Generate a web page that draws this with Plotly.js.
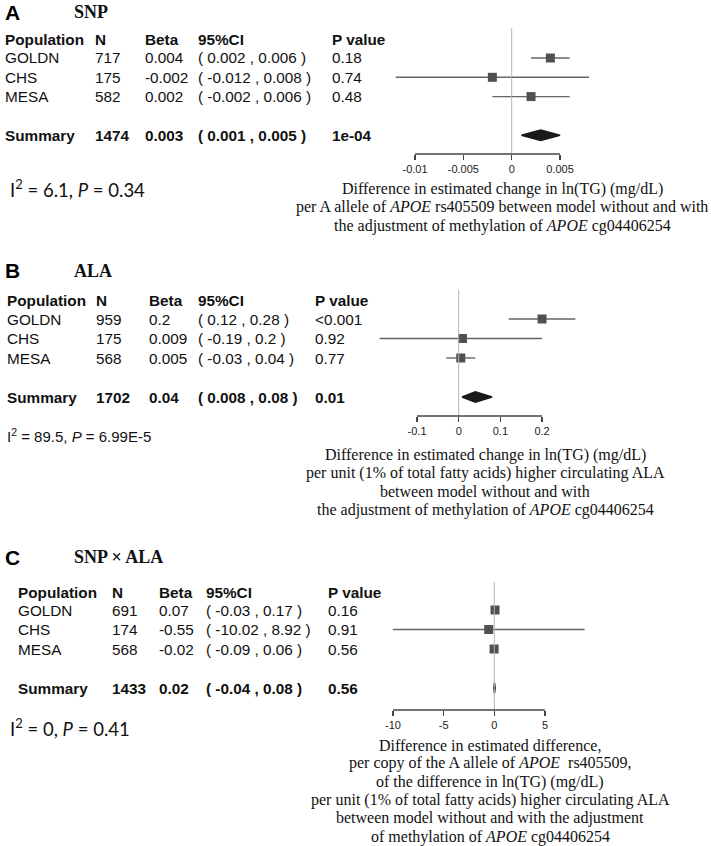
<!DOCTYPE html>
<html>
<head>
<meta charset="utf-8">
<script src="https://cdn.plot.ly/plotly-3.0.1.min.js"></script>
<style>body{margin:0;background:#fff}</style>
</head>
<body>
<div id="forest" style="width:711px;height:846px"></div>
<script>
// studies in every meta-analysis
var populations = ["GOLDN", "CHS", "MESA"];

// A: SNP
var snpN = [717, 175, 582];
var snpBeta = [0.004, -0.002, 0.002];
var snpLow = [0.002, -0.012, -0.002];
var snpHigh = [0.006, 0.008, 0.006];
var snpP = ["0.18", "0.74", "0.48"];
var snpSummary = [1474, 0.003, 0.001, 0.005];   // N, beta, low, high
var snpSummaryP = "1e-04";
var snpHet = ["6.1", "0.34"];                     // I2, P
var snpTicks = [-0.01, -0.005, 0, 0.005];

// B: ALA
var alaN = [959, 175, 568];
var alaBeta = [0.2, 0.009, 0.005];
var alaLow = [0.12, -0.19, -0.03];
var alaHigh = [0.28, 0.2, 0.04];
var alaP = ["<0.001", "0.92", "0.77"];
var alaSummary = [1702, 0.04, 0.008, 0.08];
var alaSummaryP = "0.01";
var alaHet = ["89.5", "6.99E-5"];
var alaTicks = [-0.1, 0, 0.1, 0.2];

// C: SNP x ALA
var intN = [691, 174, 568];
var intBeta = [0.07, -0.55, -0.02];
var intLow = [-0.03, -10.02, -0.09];
var intHigh = [0.17, 8.92, 0.06];
var intP = ["0.16", "0.91", "0.56"];
var intSummary = [1433, 0.02, -0.04, 0.08];
var intSummaryP = "0.56";
var intHet = ["0", "0.41"];
var intTicks = [-10, -5, 0, 5];

var W = 711, H = 846;
function py(p) { return 1 - p / H; }
function px(p) { return p / W; }

var panels = [
  {ax: "", letter: "A", name: "SNP", letterY: 12,
   n: snpN, beta: snpBeta, low: snpLow, high: snpHigh, p: snpP,
   sum: snpSummary, sumP: snpSummaryP, het: snpHet, ticks: snpTicks,
   top: 28, bottom: 154, row1: 58, step: 19.3, header: 40,
   zero: 511.7, scale: 9667, cols: [3, 93, 143, 196, 330],
   hetPos: [8, 188], hetFont: {family: "Lato, sans-serif", size: 18.5},
   lines: ["Difference in estimated change in ln(TG) (mg/dL)",
           "per A allele of <i>APOE</i> rs405509 between model without and with",
           "the adjustment of methylation of <i>APOE</i> cg04406254"],
   lineY: 189, lineX: 502},
  {ax: "2", letter: "B", name: "ALA", letterY: 271,
   n: alaN, beta: alaBeta, low: alaLow, high: alaHigh, p: alaP,
   sum: alaSummary, sumP: alaSummaryP, het: alaHet, ticks: alaTicks,
   top: 290, bottom: 416, row1: 319, step: 19.5, header: 300,
   zero: 458.7, scale: 416.7, cols: [5, 94, 147, 196, 313],
   hetPos: [5, 435], hetFont: {family: "Liberation Sans, Arial, sans-serif", size: 15},
   lines: ["Difference in estimated change in ln(TG) (mg/dL)",
           "per unit (1% of total fatty acids) higher circulating ALA",
           "between model without and with",
           "the adjustment of methylation of <i>APOE</i> cg04406254"],
   lineY: 455, lineX: 485},
  {ax: "3", letter: "C", name: "SNP \u00d7 ALA", letterY: 557,
   n: intN, beta: intBeta, low: intLow, high: intHigh, p: intP,
   sum: intSummary, sumP: intSummaryP, het: intHet, ticks: intTicks,
   top: 582, bottom: 710, row1: 610, step: 19.5, header: 592,
   zero: 494.3, scale: 10.13, cols: [16, 110, 157, 204, 326],
   hetPos: [8, 727], hetFont: {family: "Lato, sans-serif", size: 18.5},
   lines: ["Difference in estimated difference,",
           "per copy of the A allele of <i>APOE</i>  rs405509,",
           "of the difference in ln(TG) (mg/dL)",
           "per unit (1% of total fatty acids) higher circulating ALA",
           "between model without and with the adjustment",
           "of methylation of <i>APOE</i> cg04406254"],
   lineY: 745, lineX: 490}
];

var sans = "Liberation Sans, Arial, sans-serif";
var serif = "Liberation Serif, Times New Roman, serif";
var data = [], annotations = [], shapes = [];
var layout = {
  width: W, height: H, margin: {l: 0, r: 0, t: 0, b: 0},
  paper_bgcolor: "#fff", plot_bgcolor: "#fff", showlegend: false, hovermode: false
};

panels.forEach(function (pn) {
  var xa = "x" + pn.ax, ya = "y" + pn.ax;
  var rows = [1, 2, 3], sumRow = 5;
  function rowPx(r) { return pn.row1 + (r - 1) * pn.step; }

  layout["xaxis" + pn.ax] = {
    domain: [px(360), 1], anchor: ya,
    range: [(360 - pn.zero) / pn.scale, (W - pn.zero) / pn.scale],
    tickvals: pn.ticks, ticktext: pn.ticks.map(String),
    ticks: "outside", ticklen: 5, tickcolor: "#444", tickwidth: 1.2,
    showline: false, zeroline: false, showgrid: false, fixedrange: true,
    tickfont: {family: sans, size: 11, color: "#222"}
  };
  layout["yaxis" + pn.ax] = {
    domain: [py(pn.bottom), py(pn.top)], anchor: xa, visible: false,
    range: [1 + (pn.bottom - pn.row1) / pn.step, 1 + (pn.top - pn.row1) / pn.step],
    fixedrange: true
  };

  shapes.push({type: "line", xref: xa, yref: ya + " domain", x0: 0, x1: 0, y0: 0, y1: 1,
    line: {color: "#b5b5b5", width: 1}});
  shapes.push({type: "line", xref: xa, yref: ya + " domain",
    x0: pn.ticks[0], x1: pn.ticks[pn.ticks.length - 1], y0: 0, y1: 0,
    line: {color: "#444", width: 1.3}});

  // confidence intervals
  var cx = [], cy = [];
  rows.forEach(function (r, i) { cx.push(pn.low[i], pn.high[i], null); cy.push(r, r, null); });
  data.push({type: "scatter", mode: "lines", x: cx, y: cy, xaxis: xa, yaxis: ya,
    line: {color: "#666", width: 1.4}, hoverinfo: "skip"});
  data.push({type: "scatter", mode: "markers", x: pn.beta, y: rows, xaxis: xa, yaxis: ya,
    marker: {symbol: "square", size: 9, color: "#505050"}, hoverinfo: "skip"});
  // summary diamond
  var h = 0.27;
  data.push({type: "scatter", mode: "lines", fill: "toself", fillcolor: "#1a1a1a",
    x: [pn.sum[2], pn.sum[1], pn.sum[3], pn.sum[1], pn.sum[2]],
    y: [sumRow, sumRow - h, sumRow, sumRow + h, sumRow],
    xaxis: xa, yaxis: ya, line: {color: "#1a1a1a", width: 1.5}, hoverinfo: "skip"});

  function txt(x, y, s, font) {
    annotations.push({xref: "paper", yref: "paper", x: px(x), y: py(y), text: s,
      showarrow: false, xanchor: "left", yanchor: "middle", font: font});
  }
  var reg = {family: sans, size: 15.3, color: "#111"};

  txt(3, pn.letterY, "<b>" + pn.letter + "</b>", {family: sans, size: 21, color: "#000"});
  txt(72, pn.letterY, "<b>" + pn.name + "</b>", {family: serif, size: 18, color: "#111"});

  ["Population", "N", "Beta", "95%CI", "P value"].forEach(function (hd, j) {
    txt(pn.cols[j], pn.header, "<b>" + hd + "</b>", reg);
  });
  rows.forEach(function (r, i) {
    var y = rowPx(r);
    txt(pn.cols[0], y, populations[i], reg);
    txt(pn.cols[1], y, String(pn.n[i]), reg);
    txt(pn.cols[2], y, String(pn.beta[i]), reg);
    txt(pn.cols[3], y, "( " + pn.low[i] + " , " + pn.high[i] + " )", reg);
    txt(pn.cols[4], y, pn.p[i], reg);
  });
  var sy = rowPx(sumRow);
  txt(pn.cols[0], sy, "<b>Summary</b>", reg);
  txt(pn.cols[1], sy, "<b>" + pn.sum[0] + "</b>", reg);
  txt(pn.cols[2], sy, "<b>" + pn.sum[1] + "</b>", reg);
  txt(pn.cols[3], sy, "<b>( " + pn.sum[2] + " , " + pn.sum[3] + " )</b>", reg);
  txt(pn.cols[4], sy, "<b>" + pn.sumP + "</b>", reg);

  txt(pn.hetPos[0], pn.hetPos[1],
      "I<sup>2</sup> = " + pn.het[0] + ", <i>P</i> = " + pn.het[1],
      Object.assign({color: "#111"}, pn.hetFont));

  pn.lines.forEach(function (ln, k) {
    annotations.push({xref: "paper", yref: "paper", x: px(pn.lineX), y: py(pn.lineY + k * 18.3),
      text: ln, showarrow: false, xanchor: "center", yanchor: "middle",
      font: {family: serif, size: 16, color: "#111"}});
  });
});

layout.annotations = annotations;
layout.shapes = shapes;

Plotly.newPlot("forest", data, layout, {staticPlot: true, displayModeBar: false});
</script>
</body>
</html>
